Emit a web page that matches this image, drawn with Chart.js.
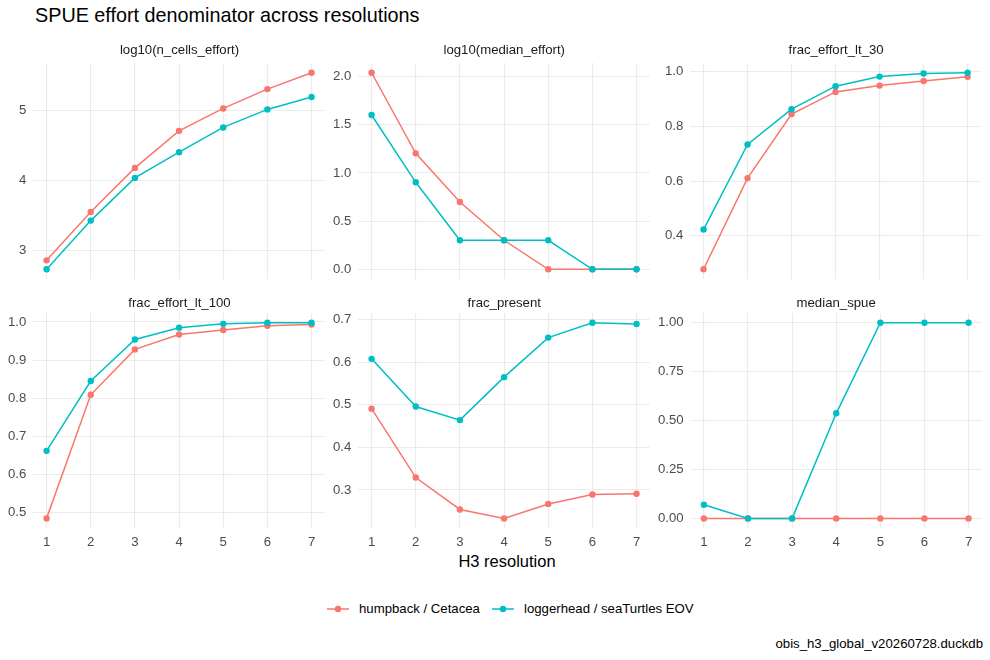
<!DOCTYPE html>
<html>
<head>
<meta charset="utf-8">
<script src="https://cdn.jsdelivr.net/npm/chart.js@4.4.1/dist/chart.umd.min.js"></script>
<style>
  html, body { margin: 0; padding: 0; background: #fff; }
  #page { position: relative; width: 990px; height: 660px; overflow: hidden;
          font-family: "Liberation Sans", Arial, sans-serif; }
  #page canvas { position: absolute; }
  .txt { position: absolute; white-space: nowrap; line-height: 1; }
  .strip { font-size: 13.2px; color: #1a1a1a; transform: translate(-50%, -50%); }
  .key { position: absolute; }
</style>
</head>
<body>
<div id="page">
  <div class="txt" style="left:35px; top:6px; font-size:19.8px; color:#000;">SPUE effort denominator across resolutions</div>
  <div class="txt" style="left:507px; top:561px; font-size:16.5px; color:#000; transform:translate(-50%,-50%);">H3 resolution</div>
  <div class="txt" style="right:7px; top:644px; font-size:13.2px; color:#000; transform:translateY(-50%);">obis_h3_global_v20260728.duckdb</div>
  <div id="legend"></div>
</div>
<script>
// data
const resolution = [1, 2, 3, 4, 5, 6, 7];
const seriesNames = ['humpback / Cetacea', 'loggerhead / seaTurtles EOV'];
const seriesColors = ['#F8766D', '#00BFC4'];

const nCellsHumpback   = [2.857, 3.547, 4.176, 4.704, 5.024, 5.300, 5.533];
const nCellsLoggerhead = [2.730, 3.424, 4.033, 4.400, 4.753, 5.010, 5.186];

const medianEffortHumpback   = [2.041, 1.204, 0.699, 0.301, 0, 0, 0];
const medianEffortLoggerhead = [1.602, 0.903, 0.301, 0.301, 0.301, 0, 0];

const frac30Humpback   = [0.278, 0.611, 0.845, 0.926, 0.949, 0.966, 0.981];
const frac30Loggerhead = [0.423, 0.734, 0.863, 0.947, 0.982, 0.993, 0.996];

const frac100Humpback   = [0.485, 0.809, 0.928, 0.967, 0.979, 0.990, 0.993];
const frac100Loggerhead = [0.662, 0.845, 0.954, 0.985, 0.995, 0.998, 0.998];

const fracPresentHumpback   = [0.491, 0.329, 0.254, 0.233, 0.267, 0.289, 0.291];
const fracPresentLoggerhead = [0.608, 0.496, 0.464, 0.565, 0.658, 0.693, 0.690];

const medianSpueHumpback   = [0, 0, 0, 0, 0, 0, 0];
const medianSpueLoggerhead = [0.070, 0, 0, 0.537, 1, 1, 1];

// tick labels
const xTicks = [1, 2, 3, 4, 5, 6, 7];
const yTicksNCells = [3, 4, 5];
const yTicksMedianEffort = [0, 0.5, 1, 1.5, 2];
const yTicksFrac30 = [0.4, 0.6, 0.8, 1.0];
const yTicksFrac100 = [0.5, 0.6, 0.7, 0.8, 0.9, 1.0];
const yTicksFracPresent = [0.3, 0.4, 0.5, 0.6, 0.7];
const yTicksMedianSpue = [0, 0.25, 0.5, 0.75, 1];

const panels = [
  { name: 'log10(n_cells_effort)', a: nCellsHumpback, b: nCellsLoggerhead, ticks: yTicksNCells, dec: 0 },
  { name: 'log10(median_effort)', a: medianEffortHumpback, b: medianEffortLoggerhead, ticks: yTicksMedianEffort, dec: 1 },
  { name: 'frac_effort_lt_30', a: frac30Humpback, b: frac30Loggerhead, ticks: yTicksFrac30, dec: 1 },
  { name: 'frac_effort_lt_100', a: frac100Humpback, b: frac100Loggerhead, ticks: yTicksFrac100, dec: 1 },
  { name: 'frac_present', a: fracPresentHumpback, b: fracPresentLoggerhead, ticks: yTicksFracPresent, dec: 1 },
  { name: 'median_spue', a: medianSpueHumpback, b: medianSpueLoggerhead, ticks: yTicksMedianSpue, dec: 2 }
];

// panel layout (page pixels)
const colLeft = [33.75, 358.5, 690.8];
const colRight = [325.25, 650, 981.5];
const rowTop = [62.5, 313];
const rowBottom = [278.5, 528.5];
const stripY = [50, 303];

const page = document.getElementById('page');
const fontFamily = '"Liberation Sans", Arial, sans-serif';

function toXY(vals) {
  return vals.map((v, i) => ({ x: resolution[i], y: v }));
}

function buildConfig(p, row) {
  const all = p.a.concat(p.b);
  const lo = Math.min(...all), hi = Math.max(...all);
  const pad = (hi - lo) * 0.05;
  const ds = (vals, k) => ({
    label: seriesNames[k],
    data: toXY(vals),
    borderColor: seriesColors[k],
    backgroundColor: seriesColors[k],
    borderWidth: 1.5,
    pointRadius: 3.2,
    pointBorderWidth: 0,
    pointHoverRadius: 3.2,
    tension: 0,
    clip: false,
    order: 1 - k
  });
  return {
    type: 'line',
    data: { datasets: [ds(p.a, 0), ds(p.b, 1)] },
    options: {
      responsive: false,
      maintainAspectRatio: false,
      animation: false,
      events: [],
      layout: { padding: 0 },
      plugins: { legend: { display: false }, title: { display: false }, tooltip: { enabled: false } },
      scales: {
        x: {
          type: 'linear',
          min: resolution[0] - 0.05 * (resolution[6] - resolution[0]),
          max: resolution[6] + 0.05 * (resolution[6] - resolution[0]),
          afterBuildTicks: s => { s.ticks = xTicks.map(v => ({ value: v })); },
          ticks: {
            display: row === 1,
            padding: 6,
            color: '#4D4D4D',
            font: { family: fontFamily, size: 13.2 },
            callback: v => String(v)
          },
          grid: { color: '#EBEBEB', lineWidth: 1.1, drawTicks: false },
          border: { display: false }
        },
        y: {
          type: 'linear',
          min: lo - pad,
          max: hi + pad,
          afterBuildTicks: s => { s.ticks = p.ticks.map(v => ({ value: v })); },
          ticks: {
            padding: 7,
            color: '#4D4D4D',
            font: { family: fontFamily, size: 13.2 },
            callback: v => Number(v).toFixed(p.dec)
          },
          grid: { color: '#EBEBEB', lineWidth: 1.1, drawTicks: false },
          border: { display: false }
        }
      }
    }
  };
}

function makePanel(p, i) {
  const col = i % 3, row = Math.floor(i / 3);
  const box = { left: colLeft[col], right: colRight[col], top: rowTop[row], bottom: rowBottom[row] };
  const bw = box.right - box.left, bh = box.bottom - box.top;

  // first pass: measure how much room the axes take
  let canvas = document.createElement('canvas');
  canvas.width = Math.round(bw + 60);
  canvas.height = Math.round(bh + 40);
  page.appendChild(canvas);
  let chart = new Chart(canvas, buildConfig(p, row));
  let ca = chart.chartArea;
  const W = Math.round(canvas.width + bw - (ca.right - ca.left));
  const H = Math.round(canvas.height + bh - (ca.bottom - ca.top));
  chart.destroy();
  canvas.remove();

  canvas = document.createElement('canvas');
  canvas.width = W;
  canvas.height = H;
  page.appendChild(canvas);
  chart = new Chart(canvas, buildConfig(p, row));
  ca = chart.chartArea;
  canvas.style.left = (box.left - ca.left) + 'px';
  canvas.style.top = (box.top - ca.top) + 'px';

  const strip = document.createElement('div');
  strip.className = 'txt strip';
  strip.textContent = p.name;
  strip.style.left = ((box.left + box.right) / 2) + 'px';
  strip.style.top = stripY[row] + 'px';
  page.appendChild(strip);
}

panels.forEach(makePanel);

// legend
const legend = document.getElementById('legend');
const legendX = [327, 492];
seriesNames.forEach((name, k) => {
  const key = document.createElement('canvas');
  key.width = 22; key.height = 12;
  key.className = 'key';
  key.style.left = legendX[k] + 'px';
  key.style.top = (609 - 6) + 'px';
  const ctx = key.getContext('2d');
  ctx.strokeStyle = seriesColors[k];
  ctx.lineWidth = 1.5;
  ctx.beginPath(); ctx.moveTo(0, 6); ctx.lineTo(22, 6); ctx.stroke();
  ctx.fillStyle = seriesColors[k];
  ctx.beginPath(); ctx.arc(11, 6, 3.2, 0, Math.PI * 2); ctx.fill();
  legend.appendChild(key);

  const t = document.createElement('div');
  t.className = 'txt';
  t.style.left = (legendX[k] + 32) + 'px';
  t.style.top = '609px';
  t.style.fontSize = '13.2px';
  t.style.color = '#000';
  t.style.transform = 'translateY(-50%)';
  t.textContent = name;
  legend.appendChild(t);
});
</script>
</body>
</html>
